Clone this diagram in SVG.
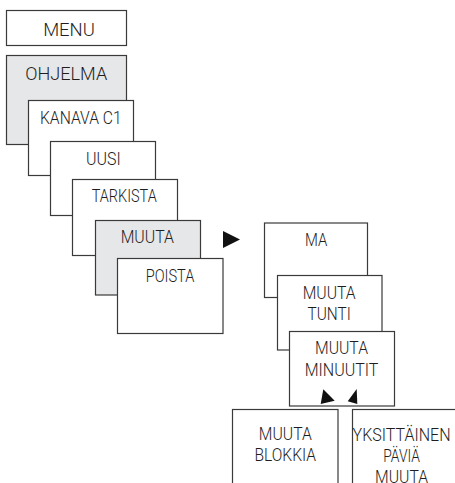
<svg xmlns="http://www.w3.org/2000/svg" width="455" height="483" viewBox="0 0 455 483">
<style>
.b{fill:#fff;stroke:#3a3a3a;stroke-width:1.2}
.g{fill:#e6e7e8;stroke:#3a3a3a;stroke-width:1.2}
text{font-family:Roboto,"Liberation Sans",sans-serif;font-size:19px;font-weight:300;fill:#1e1e1e;text-anchor:middle}
.t{fill:#111;stroke:none}
</style>
<rect width="455" height="483" fill="#fff"/>
<g id="menu"><rect class="b" x="6.5" y="10.5" width="120" height="35"/><text x="69" y="35.5" textLength="51.7" lengthAdjust="spacingAndGlyphs">MENU</text></g>
<g id="ohjelma"><rect class="g" x="6.5" y="55.5" width="120" height="89"/><text x="66.2" y="80" textLength="82" lengthAdjust="spacingAndGlyphs">OHJELMA</text></g>
<g id="kanava"><rect class="b" x="28.5" y="100.5" width="105" height="75"/><text x="80.8" y="124" textLength="81.7" lengthAdjust="spacingAndGlyphs">KANAVA C1</text></g>
<g id="uusi"><rect class="b" x="50.5" y="141.5" width="105" height="74"/><text x="103.3" y="164.7" textLength="34.7" lengthAdjust="spacingAndGlyphs">UUSI</text></g>
<g id="tarkista"><rect class="b" x="72.5" y="179.5" width="105" height="76"/><text x="124.2" y="201.7" textLength="65" lengthAdjust="spacingAndGlyphs">TARKISTA</text></g>
<g id="muuta"><rect class="g" x="95.5" y="220.5" width="105" height="74.5"/><text x="147.3" y="242.7" textLength="53.3" lengthAdjust="spacingAndGlyphs">MUUTA</text></g>
<g id="poista"><rect class="b" x="117.5" y="258.5" width="105.5" height="75"/><text x="170" y="281.7" textLength="48.7" lengthAdjust="spacingAndGlyphs">POISTA</text></g>
<g id="ma"><rect class="b" x="264.5" y="223" width="103" height="74.5"/><text x="316.2" y="245.7" textLength="22.3" lengthAdjust="spacingAndGlyphs">MA</text></g>
<g id="muuta-tunti"><rect class="b" x="277.5" y="275.5" width="104.5" height="74.5"/><text x="329.2" y="299" textLength="53" lengthAdjust="spacingAndGlyphs">MUUTA</text><text x="329.2" y="320" textLength="43.3" lengthAdjust="spacingAndGlyphs">TUNTI</text></g>
<g id="muuta-minuutit"><rect class="b" x="289.5" y="331.5" width="105" height="74.5"/><text x="341.5" y="354" textLength="53" lengthAdjust="spacingAndGlyphs">MUUTA</text><text x="341.5" y="375.7" textLength="73.7" lengthAdjust="spacingAndGlyphs">MINUUTIT</text></g>
<g id="muuta-blokkia"><rect class="b" x="232.5" y="409.5" width="105.5" height="80"/><text x="285.3" y="440" textLength="53" lengthAdjust="spacingAndGlyphs">MUUTA</text><text x="285.3" y="461" textLength="61.7" lengthAdjust="spacingAndGlyphs">BLOKKIA</text></g>
<g id="yksittainen"><rect class="b" x="352.5" y="409.5" width="105" height="80"/><text x="401.6" y="441" textLength="98" lengthAdjust="spacingAndGlyphs">YKSITTÄINEN</text><text x="401.6" y="462" textLength="36.7" lengthAdjust="spacingAndGlyphs">PÄVIÄ</text><text x="401.6" y="482.5" textLength="53" lengthAdjust="spacingAndGlyphs">MUUTA</text></g>
<g id="connectors">
<polygon class="t" points="223,231 240,239.5 223,248"/>
<polygon class="t" points="323.3,389.3 320.7,404 334.7,400.7"/>
<polygon class="t" points="356.7,389 347.7,401.3 357.3,404"/>
</g>
</svg>
